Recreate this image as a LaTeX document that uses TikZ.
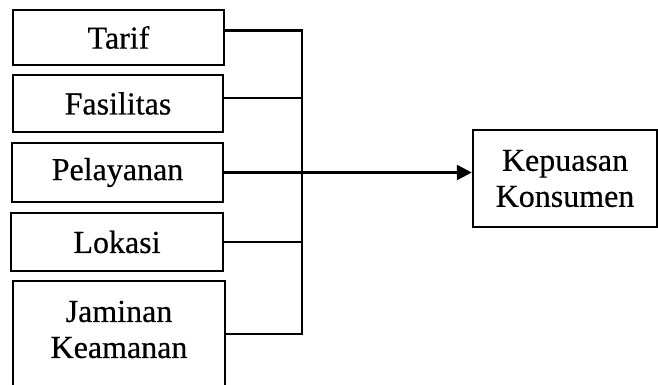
\documentclass[tikz,border=0pt]{standalone}
\usepackage{fontspec}
\setmainfont{Liberation Serif}[FakeBold=0.5]
\usetikzlibrary{arrows.meta,calc}
\begin{document}
\begin{tikzpicture}[x=1pt,y=-1pt,
  box/.style={draw=black,line width=2.5pt,rectangle,inner sep=0pt,align=center,
    font=\fontsize{32}{36}\selectfont},
  lbl/.style={inner sep=0pt,align=center,font=\fontsize{32}{36}\selectfont},
  conn/.style={draw=black,line width=2.5pt,line join=miter},
  arr/.style={conn,-{Triangle[length=15pt,width=15pt]}}]
\useasboundingbox[fill=white] (0,0) rectangle (658,385);
\clip (0,0) rectangle (658,385);
\node[box,minimum width=211pt,minimum height=55pt] (tarif) at (118.5,37.5) {Tarif};
\node[box,minimum width=210pt,minimum height=57pt] (fasilitas) at (118,103.5) {Fasilitas};
\node[box,minimum width=211pt,minimum height=59pt] (pelayanan) at (117.5,172.5) {Pelayanan};
\node[box,minimum width=212pt,minimum height=58pt] (lokasi) at (117,242) {Lokasi};
\node[box,minimum width=212pt,minimum height=120pt] (jaminan) at (119,341) {};
\node[lbl] (jaminantext) at (119,329.5) {Jaminan\\Keamanan};
\node[box,minimum width=184pt,minimum height=97pt] (kepuasan) at (565,178.5) {Kepuasan\\Konsumen};
\coordinate (busTop) at (302,30.5);
\coordinate (busBot) at (302,334);
\draw[conn] (tarif.east |- busTop) -- (busTop) -- (busBot) -- (jaminan.east |- busBot);
\draw[conn] ($(fasilitas.east)+(0,-5.5)$) coordinate (f1) -- (f1 -| busTop);
\draw[conn] (lokasi.east) -- (lokasi.east -| busTop);
\draw[arr] (pelayanan.east) -- (pelayanan.east -| kepuasan.west);
\end{tikzpicture}
\end{document}
